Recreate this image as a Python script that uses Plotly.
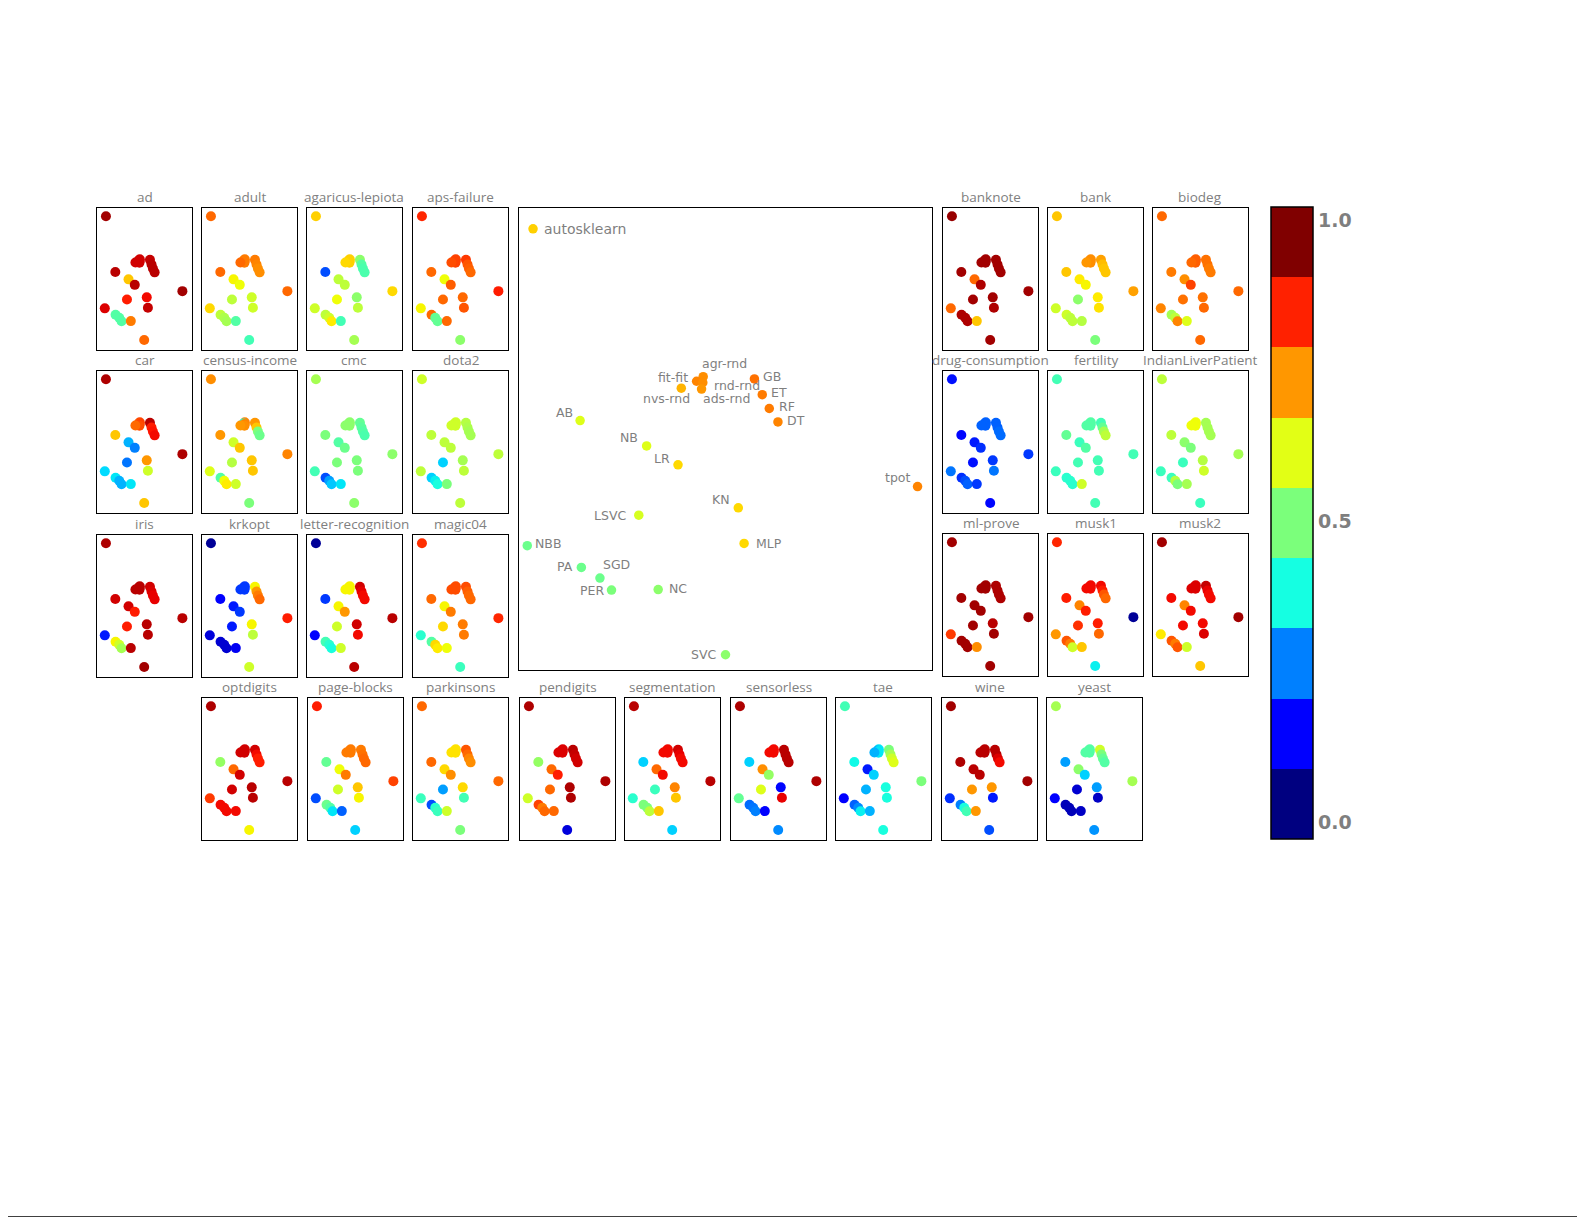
import numpy as np
import plotly.graph_objects as go

# ---------------- data ----------------
methods = ["autosklearn", "agr-rnd", "fit-fit", "rnd-rnd", "ads-rnd", "nvs-rnd",
           "GB", "ET", "RF", "DT", "AB", "NB", "LR", "tpot", "KN", "LSVC",
           "NBB", "MLP", "PA", "SGD", "PER", "NC", "SVC"]
emb_x = [3.4, 44.6, 43.0, 44.5, 44.2, 39.3, 57.0, 58.9, 60.6, 62.7, 14.8, 30.9,
         38.5, 96.5, 53.1, 29.0, 2.0, 54.5, 15.1, 19.6, 22.4, 33.7, 50.0]
emb_y = [95.5, 63.5, 62.5, 62.2, 60.8, 61.0, 63.0, 59.6, 56.6, 53.7, 54.0, 48.5,
         44.4, 39.7, 35.1, 33.5, 26.9, 27.4, 22.2, 19.9, 17.3, 17.4, 3.3]
mean_score = [0.69, 0.76, 0.77, 0.76, 0.75, 0.72, 0.79, 0.78, 0.78, 0.77, 0.62, 0.62,
              0.68, 0.77, 0.68, 0.61, 0.48, 0.68, 0.48, 0.48, 0.50, 0.52, 0.52]

v_ad = [0.97, 0.93, 0.93, 0.93, 0.93, 0.93, 0.94, 0.95, 0.95, 0.95, 0.95, 0.70, 0.95, 0.97, 0.90, 0.88, 0.92, 0.94, 0.45, 0.45, 0.45, 0.78, 0.80]
v_adult = [0.80, 0.78, 0.78, 0.78, 0.78, 0.80, 0.78, 0.77, 0.76, 0.76, 0.80, 0.65, 0.64, 0.80, 0.60, 0.58, 0.68, 0.60, 0.58, 0.56, 0.55, 0.45, 0.43]
v_agaricus = [0.69, 0.69, 0.69, 0.69, 0.69, 0.68, 0.52, 0.45, 0.44, 0.44, 0.20, 0.58, 0.58, 0.68, 0.52, 0.64, 0.60, 0.58, 0.58, 0.60, 0.66, 0.43, 0.55]
v_aps = [0.87, 0.84, 0.84, 0.84, 0.84, 0.83, 0.85, 0.82, 0.81, 0.80, 0.80, 0.64, 0.81, 0.88, 0.80, 0.80, 0.65, 0.82, 0.80, 0.47, 0.47, 0.80, 0.52]
v_car = [0.96, 0.84, 0.82, 0.84, 0.83, 0.80, 0.95, 0.88, 0.89, 0.90, 0.70, 0.30, 0.25, 0.96, 0.75, 0.24, 0.34, 0.60, 0.35, 0.30, 0.30, 0.35, 0.70]
v_census = [0.76, 0.77, 0.38, 0.77, 0.76, 0.75, 0.75, 0.70, 0.50, 0.48, 0.75, 0.60, 0.70, 0.77, 0.70, 0.57, 0.62, 0.70, 0.45, 0.64, 0.66, 0.60, 0.50]
v_cmc = [0.55, 0.52, 0.52, 0.52, 0.52, 0.52, 0.47, 0.46, 0.45, 0.44, 0.50, 0.45, 0.48, 0.52, 0.50, 0.50, 0.43, 0.50, 0.20, 0.28, 0.32, 0.35, 0.52]
v_dota2 = [0.60, 0.60, 0.60, 0.60, 0.60, 0.60, 0.57, 0.56, 0.55, 0.55, 0.58, 0.58, 0.58, 0.58, 0.55, 0.33, 0.58, 0.58, 0.33, 0.36, 0.38, 0.50, 0.58]
v_iris = [0.96, 0.95, 0.95, 0.95, 0.95, 0.95, 0.93, 0.92, 0.91, 0.91, 0.93, 0.93, 0.88, 0.95, 0.95, 0.88, 0.15, 0.95, 0.65, 0.60, 0.55, 0.95, 0.97]
v_krkopt = [0.02, 0.18, 0.18, 0.18, 0.18, 0.18, 0.65, 0.75, 0.78, 0.80, 0.12, 0.15, 0.18, 0.88, 0.65, 0.15, 0.08, 0.58, 0.07, 0.07, 0.07, 0.10, 0.60]
v_letter = [0.02, 0.65, 0.65, 0.65, 0.65, 0.65, 0.93, 0.91, 0.90, 0.90, 0.18, 0.65, 0.75, 0.95, 0.93, 0.60, 0.12, 0.90, 0.43, 0.40, 0.38, 0.60, 0.95]
v_magic04 = [0.86, 0.83, 0.83, 0.83, 0.83, 0.83, 0.83, 0.81, 0.80, 0.80, 0.80, 0.65, 0.78, 0.87, 0.78, 0.68, 0.40, 0.78, 0.45, 0.68, 0.66, 0.64, 0.42]
v_banknote = [0.98, 0.97, 0.97, 0.97, 0.97, 0.97, 0.97, 0.97, 0.97, 0.97, 0.97, 0.80, 0.96, 0.97, 0.97, 0.97, 0.80, 0.96, 0.96, 0.96, 0.96, 0.70, 0.97]
v_bank = [0.70, 0.76, 0.76, 0.76, 0.76, 0.75, 0.74, 0.71, 0.70, 0.70, 0.70, 0.66, 0.65, 0.74, 0.66, 0.52, 0.60, 0.67, 0.60, 0.58, 0.58, 0.57, 0.50]
v_biodeg = [0.80, 0.81, 0.81, 0.81, 0.81, 0.80, 0.79, 0.79, 0.78, 0.78, 0.78, 0.76, 0.84, 0.80, 0.79, 0.79, 0.77, 0.80, 0.55, 0.58, 0.77, 0.62, 0.80]
v_drug = [0.14, 0.22, 0.22, 0.22, 0.22, 0.22, 0.22, 0.22, 0.23, 0.23, 0.13, 0.15, 0.17, 0.18, 0.18, 0.14, 0.24, 0.24, 0.17, 0.20, 0.22, 0.18, 0.13]
v_fertility = [0.43, 0.45, 0.45, 0.45, 0.45, 0.45, 0.43, 0.47, 0.55, 0.58, 0.47, 0.42, 0.45, 0.43, 0.43, 0.43, 0.42, 0.43, 0.40, 0.40, 0.40, 0.60, 0.43]
v_ilp = [0.58, 0.64, 0.64, 0.64, 0.64, 0.64, 0.55, 0.55, 0.55, 0.55, 0.58, 0.52, 0.50, 0.55, 0.57, 0.42, 0.42, 0.60, 0.42, 0.57, 0.50, 0.55, 0.42]
v_mlprove = [0.97, 0.97, 0.97, 0.97, 0.97, 0.97, 0.96, 0.96, 0.96, 0.96, 0.97, 0.97, 0.97, 0.97, 0.95, 0.97, 0.85, 0.97, 0.97, 0.97, 0.97, 0.76, 0.97]
v_musk1 = [0.87, 0.90, 0.90, 0.90, 0.90, 0.90, 0.90, 0.88, 0.82, 0.80, 0.88, 0.77, 0.88, 0.02, 0.88, 0.86, 0.75, 0.80, 0.82, 0.78, 0.60, 0.70, 0.36]
v_musk2 = [0.97, 0.92, 0.92, 0.92, 0.92, 0.92, 0.94, 0.91, 0.90, 0.90, 0.90, 0.77, 0.90, 0.97, 0.90, 0.90, 0.66, 0.92, 0.82, 0.78, 0.82, 0.60, 0.70]
v_optdigits = [0.96, 0.93, 0.93, 0.93, 0.93, 0.93, 0.93, 0.90, 0.88, 0.88, 0.53, 0.80, 0.93, 0.95, 0.95, 0.93, 0.85, 0.95, 0.90, 0.90, 0.90, 0.90, 0.65]
v_pageblocks = [0.88, 0.78, 0.78, 0.78, 0.78, 0.78, 0.78, 0.79, 0.80, 0.80, 0.47, 0.64, 0.78, 0.84, 0.70, 0.60, 0.20, 0.65, 0.48, 0.45, 0.35, 0.22, 0.33]
v_parkinsons = [0.80, 0.67, 0.67, 0.67, 0.67, 0.67, 0.82, 0.80, 0.77, 0.76, 0.80, 0.68, 0.76, 0.80, 0.68, 0.28, 0.42, 0.43, 0.20, 0.40, 0.42, 0.60, 0.50]
v_pendigits = [0.96, 0.92, 0.92, 0.92, 0.92, 0.92, 0.95, 0.94, 0.93, 0.93, 0.53, 0.80, 0.88, 0.96, 0.96, 0.80, 0.60, 0.96, 0.84, 0.78, 0.80, 0.80, 0.08]
v_segmentation = [0.95, 0.90, 0.90, 0.90, 0.90, 0.90, 0.93, 0.91, 0.90, 0.90, 0.33, 0.80, 0.90, 0.95, 0.77, 0.42, 0.40, 0.70, 0.50, 0.50, 0.58, 0.70, 0.33]
v_sensorless = [0.96, 0.90, 0.90, 0.90, 0.90, 0.90, 0.95, 0.95, 0.95, 0.95, 0.33, 0.76, 0.53, 0.96, 0.13, 0.62, 0.47, 0.91, 0.23, 0.24, 0.25, 0.12, 0.26]
v_tae = [0.43, 0.35, 0.30, 0.35, 0.35, 0.30, 0.50, 0.55, 0.60, 0.62, 0.37, 0.15, 0.33, 0.50, 0.38, 0.30, 0.12, 0.38, 0.22, 0.26, 0.36, 0.30, 0.38]
v_wine = [0.97, 0.95, 0.95, 0.95, 0.95, 0.95, 0.95, 0.95, 0.92, 0.90, 0.96, 0.95, 0.95, 0.97, 0.75, 0.75, 0.17, 0.15, 0.25, 0.38, 0.43, 0.75, 0.20]
v_yeast = [0.55, 0.45, 0.45, 0.45, 0.45, 0.45, 0.60, 0.50, 0.47, 0.45, 0.28, 0.52, 0.33, 0.55, 0.28, 0.07, 0.12, 0.06, 0.05, 0.05, 0.05, 0.06, 0.27]

dataset_names = ["ad", "adult", "agaricus-lepiota", "aps-failure", "car", "census-income",
                 "cmc", "dota2", "iris", "krkopt", "letter-recognition", "magic04",
                 "banknote", "bank", "biodeg", "drug-consumption", "fertility",
                 "IndianLiverPatient", "ml-prove", "musk1", "musk2",
                 "optdigits", "page-blocks", "parkinsons", "pendigits", "segmentation",
                 "sensorless", "tae", "wine", "yeast"]
dataset_values = [v_ad, v_adult, v_agaricus, v_aps, v_car, v_census, v_cmc, v_dota2,
                  v_iris, v_krkopt, v_letter, v_magic04, v_banknote, v_bank, v_biodeg,
                  v_drug, v_fertility, v_ilp, v_mlprove, v_musk1, v_musk2,
                  v_optdigits, v_pageblocks, v_parkinsons, v_pendigits, v_segmentation,
                  v_sensorless, v_tae, v_wine, v_yeast]

cbar_tickvals = [0.0, 0.5, 1.0]
cbar_ticktext = ["0.0", "0.5", "1.0"]

# ---------------- styling / layout ----------------
W, H = 1569, 1209
OFF = 8
PW, PH = 95, 142


def jet_rgb(v):
    r = np.interp(v, [0, 0.35, 0.66, 0.89, 1], [0, 0, 1, 1, 0.5])
    g = np.interp(v, [0, 0.125, 0.375, 0.64, 0.91, 1], [0, 0, 1, 1, 0, 0])
    b = np.interp(v, [0, 0.11, 0.34, 0.65, 1], [0.5, 1, 1, 0, 0])
    return "rgb(%d,%d,%d)" % (round(r * 255), round(g * 255), round(b * 255))


jet_scale = [[float(t), jet_rgb(t)] for t in np.linspace(0, 1, 101)]
disc_scale = []
for k in range(9):
    c = jet_rgb(k / 8)
    disc_scale.append([k / 9, c])
    disc_scale.append([(k + 1) / 9, c])


def dom(x0, y0, w, h):
    return ([(x0 - OFF) / W, (x0 + w - OFF) / W],
            [1 - (y0 + h - OFF) / H, 1 - (y0 - OFF) / H])


slots = []
left_x = [97, 202, 307, 413]
left_y = [208, 371, 535]
for i in range(12):
    slots.append((left_x[i % 4], left_y[i // 4]))
right_x = [943, 1048, 1153]
right_y = [208, 371, 534]
for i in range(9):
    slots.append((right_x[i % 3], right_y[i // 3]))
bottom_x = [202, 308, 413, 520, 625, 731, 836, 942, 1047]
for bx in bottom_x:
    slots.append((bx, 698))

axis_common = dict(showgrid=False, zeroline=False, showticklabels=False, ticks="",
                   showline=True, mirror=True, linecolor="black", linewidth=1.3,
                   fixedrange=True)

fig = go.Figure()
layout_axes = {}
annotations = []

# main panel
mx, my = dom(519, 208, 413, 462)
layout_axes["xaxis"] = dict(domain=mx, range=[0, 100], anchor="y", **axis_common)
layout_axes["yaxis"] = dict(domain=my, range=[0, 100], anchor="x", **axis_common)

fig.add_trace(go.Scatter(
    x=emb_x, y=emb_y, mode="markers", text=methods,
    marker=dict(size=9.5, color=mean_score, colorscale=jet_scale, cmin=0, cmax=1),
    xaxis="x", yaxis="y", showlegend=False, hoverinfo="text"))

# label placement (anchor, xshift px, yshift px)
label_style = [("left", 9, 0), ("center", 21, 13), ("right", -7, 4), ("left", 9, -3),
               ("left", -1, -9), ("right", 11, -10), ("left", 7, 2), ("left", 7, 2),
               ("left", 8, 2), ("left", 7, 1), ("right", -5, 8), ("right", -7, 8),
               ("right", -6, 6), ("right", -6, 9), ("right", -6, 8), ("right", -11, 0),
               ("left", 6, 2), ("left", 10, 0), ("right", -6, 1), ("left", 1, 14),
               ("right", -6, 0), ("left", 9, 1), ("right", -8, 0)]
for i, name in enumerate(methods):
    anc, xs, ys = label_style[i]
    annotations.append(dict(
        text=name, xref="x", yref="y", x=emb_x[i], y=emb_y[i], xanchor=anc,
        yanchor="middle", xshift=xs, yshift=ys, showarrow=False,
        font=dict(family="DejaVu Sans", size=14 if i == 0 else 12.5, color="#7f7f7f")))

# small multiples
for i, (name, vals) in enumerate(zip(dataset_names, dataset_values)):
    n = i + 2
    x0, y0 = slots[i]
    dx, dy = dom(x0, y0, PW, PH)
    layout_axes["xaxis%d" % n] = dict(domain=dx, range=[-7.5, 108.2], anchor="y%d" % n, **axis_common)
    layout_axes["yaxis%d" % n] = dict(domain=dy, range=[-4.1, 101.6], anchor="x%d" % n, **axis_common)
    fig.add_trace(go.Scatter(
        x=emb_x, y=emb_y, mode="markers", text=methods,
        marker=dict(size=10, color=vals, colorscale=jet_scale, cmin=0, cmax=1),
        xaxis="x%d" % n, yaxis="y%d" % n, showlegend=False, hoverinfo="text"))
    annotations.append(dict(
        text=name, xref="paper", yref="paper", x=(dx[0] + dx[1]) / 2, y=dy[1],
        xanchor="center", yanchor="bottom", yshift=0, showarrow=False,
        font=dict(family="Open Sans", size=13.5, color="#808080")))

# colorbar (discrete bands)
fig.add_trace(go.Scatter(
    x=[None], y=[None], mode="markers", xaxis="x", yaxis="y", showlegend=False,
    hoverinfo="skip",
    marker=dict(color=[0.5], colorscale=disc_scale, cmin=-0.027, cmax=1.022,
                showscale=True,
                colorbar=dict(x=(1271 - OFF) / W, xanchor="left", xpad=0, ypad=0,
                              y=1 - (523 - OFF) / H, yanchor="middle",
                              thickness=42, thicknessmode="pixels",
                              len=632, lenmode="pixels",
                              outlinewidth=1.5, outlinecolor="black",
                              tickvals=cbar_tickvals,
                              ticktext=["<b>%s</b>" % t for t in cbar_ticktext],
                              ticks="", ticklen=0,
                              tickfont=dict(family="DejaVu Sans", size=19, color="#7f7f7f")))))

fig.update_layout(
    width=W, height=H, margin=dict(l=0, r=0, t=0, b=0),
    paper_bgcolor="white", plot_bgcolor="white",
    annotations=annotations,
    shapes=[dict(type="line", xref="paper", yref="paper", x0=-0.01, x1=1.01, y0=0, y1=0,
                 line=dict(color="black", width=1.5))],
    **layout_axes)

fig.write_html("out.html")
